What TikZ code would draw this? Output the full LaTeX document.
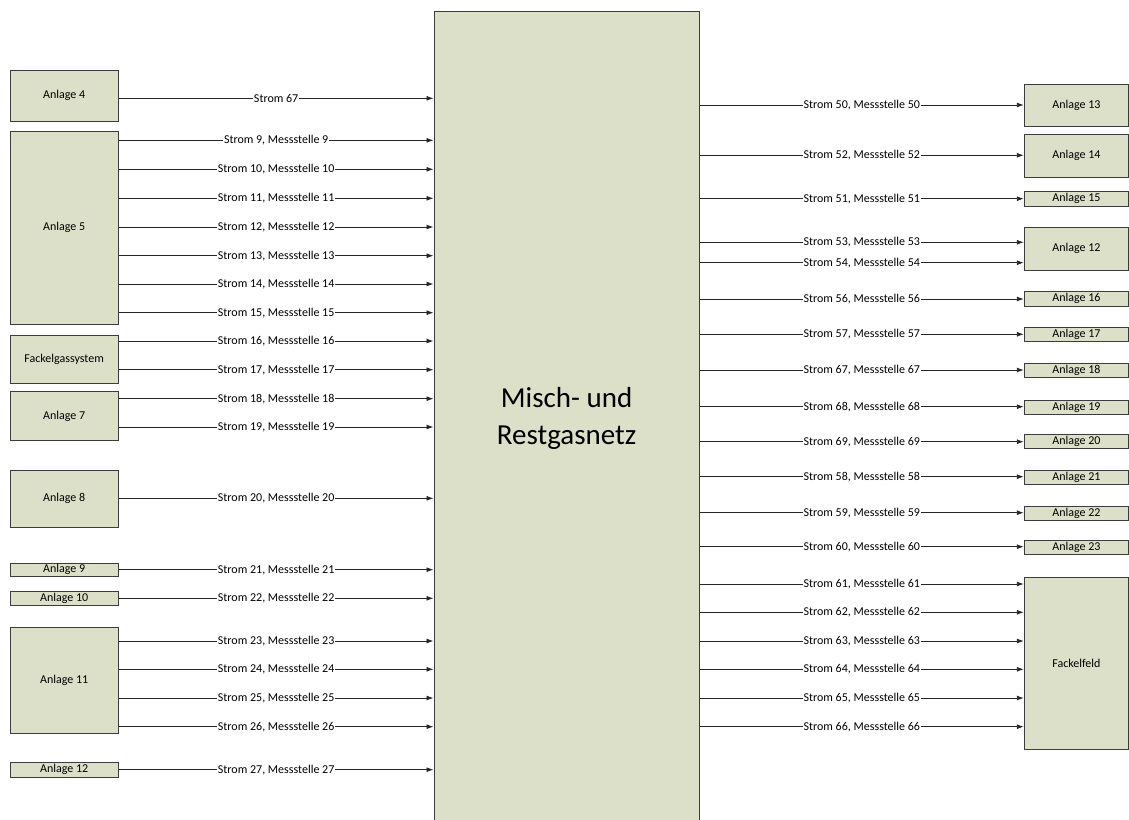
\documentclass[tikz,border=0pt]{standalone}
\usepackage{fontspec}
\setmainfont{Carlito}
\usetikzlibrary{arrows.meta}
\definecolor{boxfill}{HTML}{DCE0C8}
\definecolor{edgecol}{HTML}{3C3C3C}
\begin{document}
\begin{tikzpicture}[x=1pt,y=-1pt,
  unit/.style={draw=edgecol, line width=1pt, fill=boxfill, inner sep=0pt, font=\fontsize{12}{14}\selectfont},
  lunit/.style={unit, minimum width=108.3pt},
  runit/.style={unit, minimum width=104.2pt},
  flow/.style={draw=black!85, line width=0.9pt, -{Latex[length=7pt,width=5pt]}},
  lbl/.style={fill=white, inner sep=0.6pt, font=\fontsize{12}{14}\selectfont}]
\useasboundingbox (0,0) rectangle (1129,819);
\clip (0,0) rectangle (1129,819);

% central hub
\node[unit, minimum width=265.3pt, minimum height=814pt, align=center,
      font=\fontsize{29}{37}\selectfont] (hub) at (566.65,418) {Misch- und\\Restgasnetz};

% left units
\node[lunit, minimum height=51pt]    (a4)  at (64.15,95.5)   {Anlage 4};
\node[lunit, minimum height=192.3pt] (a5)  at (64.15,227.85) {Anlage 5};
\node[lunit, minimum height=48.7pt]  (fg)  at (64.15,359.35) {Fackelgassystem};
\node[lunit, minimum height=48.6pt]  (a7)  at (64.15,416)    {Anlage 7};
\node[lunit, minimum height=57pt]    (a8)  at (64.15,498.5)  {Anlage 8};
\node[lunit, minimum height=12.7pt]  (a9)  at (64.15,569.65) {Anlage 9};
\node[lunit, minimum height=14pt]    (a10) at (64.15,598.3)  {Anlage 10};
\node[lunit, minimum height=106pt]   (a11) at (64.15,680.3)  {Anlage 11};
\node[lunit, minimum height=14.7pt]  (a12l) at (64.15,769.65) {Anlage 12};

% right units
\node[runit, minimum height=42.4pt]  (a13) at (1076.4,105.5)  {Anlage 13};
\node[runit, minimum height=43pt]    (a14) at (1076.4,155.8)  {Anlage 14};
\node[runit, minimum height=14.3pt]  (a15) at (1076.4,198.85) {Anlage 15};
\node[runit, minimum height=42.7pt]  (a12r) at (1076.4,248.65) {Anlage 12};
\node[runit, minimum height=14.3pt]  (a16) at (1076.4,298.85) {Anlage 16};
\node[runit, minimum height=14pt]    (a17) at (1076.4,334.3)  {Anlage 17};
\node[runit, minimum height=14pt]    (a18) at (1076.4,370.3)  {Anlage 18};
\node[runit, minimum height=14pt]    (a19) at (1076.4,407.3)  {Anlage 19};
\node[runit, minimum height=14.4pt]  (a20) at (1076.4,441.5)  {Anlage 20};
\node[runit, minimum height=14.3pt]  (a21) at (1076.4,477.15) {Anlage 21};
\node[runit, minimum height=14pt]    (a22) at (1076.4,513)    {Anlage 22};
\node[runit, minimum height=14pt]    (a23) at (1076.4,547)    {Anlage 23};
\node[runit, minimum height=171.7pt] (ff)  at (1076.4,663.15) {Fackelfeld};

% left flows
\draw[flow] (a4.east |- 0,98.3) -- node[lbl]{Strom 67} (hub.west |- 0,98.3);
\foreach \y/\n/\s in {140.3/9/a5, 169.3/10/a5, 198.3/11/a5, 227/12/a5, 255.7/13/a5,
  284/14/a5, 312.7/15/a5, 341/16/fg, 369.7/17/fg, 398.7/18/a7, 427/19/a7,
  498.3/20/a8, 569.7/21/a9, 598.3/22/a10, 641/23/a11, 669.3/24/a11, 698/25/a11,
  726.7/26/a11, 769.7/27/a12l}
  \draw[flow] (\s.east |- 0,\y) -- node[lbl]{Strom \n, Messstelle \n} (hub.west |- 0,\y);

% right flows
\foreach \y/\n/\t in {105/50/a13, 155.3/52/a14, 198.7/51/a15, 242.3/53/a12r,
  262.7/54/a12r, 299/56/a16, 334.3/57/a17, 370/67/a18, 406.7/68/a19, 441.7/69/a20,
  476.7/58/a21, 512.7/59/a22, 546.7/60/a23, 584/61/ff, 612.3/62/ff, 641/63/ff,
  669.3/64/ff, 698/65/ff, 726.7/66/ff}
  \draw[flow] (hub.east |- 0,\y) -- node[lbl]{Strom \n, Messstelle \n} (\t.west |- 0,\y);
\end{tikzpicture}
\end{document}
